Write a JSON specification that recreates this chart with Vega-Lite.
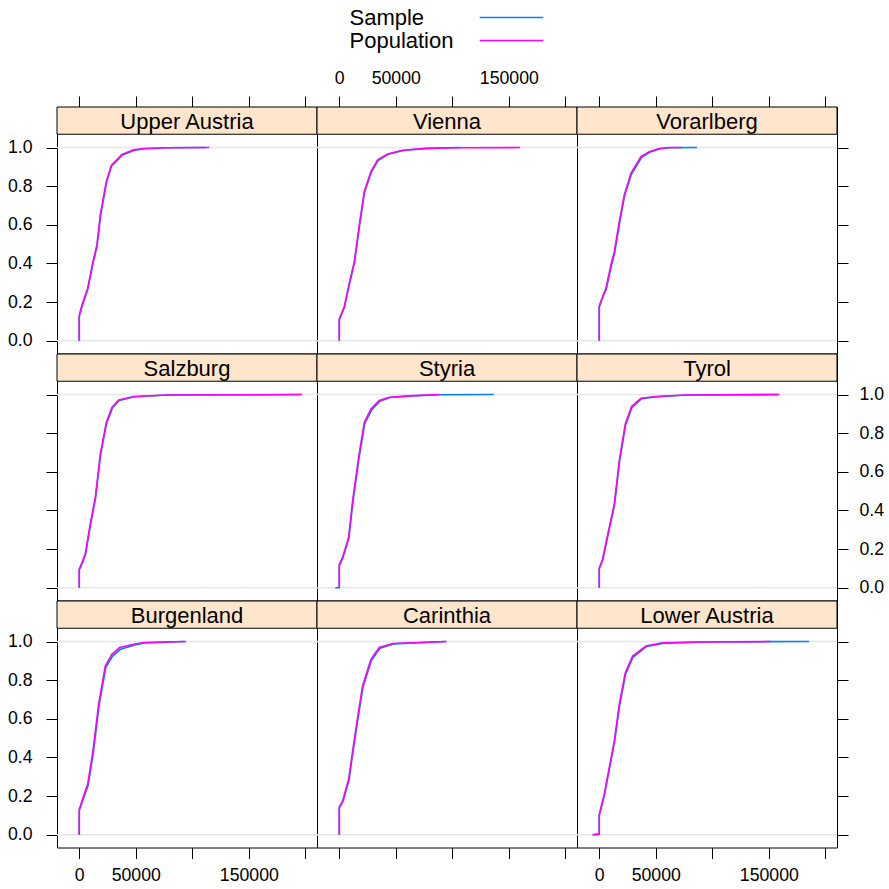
{
"$schema":"https://vega.github.io/schema/vega-lite/v6.json",
"padding":{"left":6,"top":6,"right":5,"bottom":5},
"datasets":{"ecdf":[
{"state":"Upper Austria","series":"Population","i":0,"income":0,"F":0},
{"state":"Upper Austria","series":"Population","i":1,"income":0,"F":0.133},
{"state":"Upper Austria","series":"Population","i":2,"income":2400,"F":0.185},
{"state":"Upper Austria","series":"Population","i":3,"income":7400,"F":0.271},
{"state":"Upper Austria","series":"Population","i":4,"income":12100,"F":0.409},
{"state":"Upper Austria","series":"Population","i":5,"income":15600,"F":0.496},
{"state":"Upper Austria","series":"Population","i":6,"income":18600,"F":0.651},
{"state":"Upper Austria","series":"Population","i":7,"income":23900,"F":0.824},
{"state":"Upper Austria","series":"Population","i":8,"income":28300,"F":0.907},
{"state":"Upper Austria","series":"Population","i":9,"income":37800,"F":0.965},
{"state":"Upper Austria","series":"Population","i":10,"income":48100,"F":0.988},
{"state":"Upper Austria","series":"Population","i":11,"income":57000,"F":0.995},
{"state":"Upper Austria","series":"Population","i":12,"income":77600,"F":0.999},
{"state":"Upper Austria","series":"Population","i":13,"income":115000,"F":1},
{"state":"Upper Austria","series":"Sample","i":0,"income":0,"F":0},
{"state":"Upper Austria","series":"Sample","i":1,"income":0,"F":0.125},
{"state":"Upper Austria","series":"Sample","i":2,"income":2600,"F":0.18},
{"state":"Upper Austria","series":"Sample","i":3,"income":7600,"F":0.268},
{"state":"Upper Austria","series":"Sample","i":4,"income":12300,"F":0.405},
{"state":"Upper Austria","series":"Sample","i":5,"income":15800,"F":0.49},
{"state":"Upper Austria","series":"Sample","i":6,"income":18800,"F":0.645},
{"state":"Upper Austria","series":"Sample","i":7,"income":24100,"F":0.82},
{"state":"Upper Austria","series":"Sample","i":8,"income":28500,"F":0.903},
{"state":"Upper Austria","series":"Sample","i":9,"income":38200,"F":0.962},
{"state":"Upper Austria","series":"Sample","i":10,"income":48800,"F":0.986},
{"state":"Upper Austria","series":"Sample","i":11,"income":58000,"F":0.994},
{"state":"Upper Austria","series":"Sample","i":12,"income":78000,"F":0.999},
{"state":"Upper Austria","series":"Sample","i":13,"income":112000,"F":1},
{"state":"Vienna","series":"Population","i":0,"income":0,"F":0},
{"state":"Vienna","series":"Population","i":1,"income":0,"F":0.112},
{"state":"Vienna","series":"Population","i":2,"income":4400,"F":0.176},
{"state":"Vienna","series":"Population","i":3,"income":8800,"F":0.297},
{"state":"Vienna","series":"Population","i":4,"income":13300,"F":0.409},
{"state":"Vienna","series":"Population","i":5,"income":17700,"F":0.599},
{"state":"Vienna","series":"Population","i":6,"income":22100,"F":0.772},
{"state":"Vienna","series":"Population","i":7,"income":28000,"F":0.876},
{"state":"Vienna","series":"Population","i":8,"income":33900,"F":0.936},
{"state":"Vienna","series":"Population","i":9,"income":42800,"F":0.967},
{"state":"Vienna","series":"Population","i":10,"income":56000,"F":0.986},
{"state":"Vienna","series":"Population","i":11,"income":76700,"F":0.996},
{"state":"Vienna","series":"Population","i":12,"income":106000,"F":0.999},
{"state":"Vienna","series":"Population","i":13,"income":160000,"F":1},
{"state":"Vienna","series":"Sample","i":0,"income":0,"F":0},
{"state":"Vienna","series":"Sample","i":1,"income":0,"F":0.108},
{"state":"Vienna","series":"Sample","i":2,"income":4500,"F":0.172},
{"state":"Vienna","series":"Sample","i":3,"income":9000,"F":0.293},
{"state":"Vienna","series":"Sample","i":4,"income":13500,"F":0.405},
{"state":"Vienna","series":"Sample","i":5,"income":17900,"F":0.595},
{"state":"Vienna","series":"Sample","i":6,"income":22300,"F":0.768},
{"state":"Vienna","series":"Sample","i":7,"income":28300,"F":0.872},
{"state":"Vienna","series":"Sample","i":8,"income":34300,"F":0.933},
{"state":"Vienna","series":"Sample","i":9,"income":43300,"F":0.965},
{"state":"Vienna","series":"Sample","i":10,"income":56500,"F":0.985},
{"state":"Vienna","series":"Sample","i":11,"income":77500,"F":0.996},
{"state":"Vienna","series":"Sample","i":12,"income":107700,"F":1},
{"state":"Vorarlberg","series":"Population","i":0,"income":0,"F":0},
{"state":"Vorarlberg","series":"Population","i":1,"income":0,"F":0.181},
{"state":"Vorarlberg","series":"Population","i":2,"income":2900,"F":0.228},
{"state":"Vorarlberg","series":"Population","i":3,"income":5900,"F":0.271},
{"state":"Vorarlberg","series":"Population","i":4,"income":10300,"F":0.392},
{"state":"Vorarlberg","series":"Population","i":5,"income":13300,"F":0.461},
{"state":"Vorarlberg","series":"Population","i":6,"income":17700,"F":0.617},
{"state":"Vorarlberg","series":"Population","i":7,"income":22100,"F":0.755},
{"state":"Vorarlberg","series":"Population","i":8,"income":28000,"F":0.867},
{"state":"Vorarlberg","series":"Population","i":9,"income":36900,"F":0.953},
{"state":"Vorarlberg","series":"Population","i":10,"income":44200,"F":0.979},
{"state":"Vorarlberg","series":"Population","i":11,"income":53100,"F":0.995},
{"state":"Vorarlberg","series":"Population","i":12,"income":62000,"F":1},
{"state":"Vorarlberg","series":"Population","i":13,"income":73200,"F":1},
{"state":"Vorarlberg","series":"Sample","i":0,"income":0,"F":0},
{"state":"Vorarlberg","series":"Sample","i":1,"income":0,"F":0.175},
{"state":"Vorarlberg","series":"Sample","i":2,"income":3100,"F":0.225},
{"state":"Vorarlberg","series":"Sample","i":3,"income":6200,"F":0.268},
{"state":"Vorarlberg","series":"Sample","i":4,"income":10600,"F":0.385},
{"state":"Vorarlberg","series":"Sample","i":5,"income":13600,"F":0.455},
{"state":"Vorarlberg","series":"Sample","i":6,"income":18000,"F":0.61},
{"state":"Vorarlberg","series":"Sample","i":7,"income":22400,"F":0.75},
{"state":"Vorarlberg","series":"Sample","i":8,"income":28400,"F":0.862},
{"state":"Vorarlberg","series":"Sample","i":9,"income":37500,"F":0.95},
{"state":"Vorarlberg","series":"Sample","i":10,"income":45000,"F":0.977},
{"state":"Vorarlberg","series":"Sample","i":11,"income":54000,"F":0.994},
{"state":"Vorarlberg","series":"Sample","i":12,"income":63000,"F":0.999},
{"state":"Vorarlberg","series":"Sample","i":13,"income":86400,"F":1},
{"state":"Salzburg","series":"Population","i":0,"income":0,"F":0},
{"state":"Salzburg","series":"Population","i":1,"income":0,"F":0.096},
{"state":"Salzburg","series":"Population","i":2,"income":2400,"F":0.131},
{"state":"Salzburg","series":"Population","i":3,"income":5300,"F":0.174},
{"state":"Salzburg","series":"Population","i":4,"income":9700,"F":0.33},
{"state":"Salzburg","series":"Population","i":5,"income":14200,"F":0.468},
{"state":"Salzburg","series":"Population","i":6,"income":18600,"F":0.692},
{"state":"Salzburg","series":"Population","i":7,"income":23900,"F":0.856},
{"state":"Salzburg","series":"Population","i":8,"income":28900,"F":0.934},
{"state":"Salzburg","series":"Population","i":9,"income":34800,"F":0.972},
{"state":"Salzburg","series":"Population","i":10,"income":48100,"F":0.99},
{"state":"Salzburg","series":"Population","i":11,"income":77600,"F":0.998},
{"state":"Salzburg","series":"Population","i":12,"income":197000,"F":1},
{"state":"Salzburg","series":"Sample","i":0,"income":0,"F":0},
{"state":"Salzburg","series":"Sample","i":1,"income":0,"F":0.092},
{"state":"Salzburg","series":"Sample","i":2,"income":2600,"F":0.127},
{"state":"Salzburg","series":"Sample","i":3,"income":5500,"F":0.17},
{"state":"Salzburg","series":"Sample","i":4,"income":9900,"F":0.325},
{"state":"Salzburg","series":"Sample","i":5,"income":14400,"F":0.463},
{"state":"Salzburg","series":"Sample","i":6,"income":18800,"F":0.687},
{"state":"Salzburg","series":"Sample","i":7,"income":24200,"F":0.852},
{"state":"Salzburg","series":"Sample","i":8,"income":29300,"F":0.93},
{"state":"Salzburg","series":"Sample","i":9,"income":35300,"F":0.97},
{"state":"Salzburg","series":"Sample","i":10,"income":48800,"F":0.989},
{"state":"Salzburg","series":"Sample","i":11,"income":78000,"F":0.998},
{"state":"Salzburg","series":"Sample","i":12,"income":196000,"F":1},
{"state":"Styria","series":"Population","i":0,"income":0,"F":0},
{"state":"Styria","series":"Population","i":1,"income":0,"F":0.119},
{"state":"Styria","series":"Population","i":2,"income":2900,"F":0.157},
{"state":"Styria","series":"Population","i":3,"income":8300,"F":0.261},
{"state":"Styria","series":"Population","i":4,"income":11800,"F":0.451},
{"state":"Styria","series":"Population","i":5,"income":17100,"F":0.675},
{"state":"Styria","series":"Population","i":6,"income":22100,"F":0.856},
{"state":"Styria","series":"Population","i":7,"income":28000,"F":0.925},
{"state":"Styria","series":"Population","i":8,"income":35400,"F":0.969},
{"state":"Styria","series":"Population","i":9,"income":44200,"F":0.986},
{"state":"Styria","series":"Population","i":10,"income":62000,"F":0.993},
{"state":"Styria","series":"Population","i":11,"income":88500,"F":1},
{"state":"Styria","series":"Sample","i":0,"income":-3500,"F":0},
{"state":"Styria","series":"Sample","i":1,"income":0,"F":0},
{"state":"Styria","series":"Sample","i":2,"income":0,"F":0.115},
{"state":"Styria","series":"Sample","i":3,"income":3100,"F":0.153},
{"state":"Styria","series":"Sample","i":4,"income":8500,"F":0.257},
{"state":"Styria","series":"Sample","i":5,"income":12100,"F":0.445},
{"state":"Styria","series":"Sample","i":6,"income":17400,"F":0.668},
{"state":"Styria","series":"Sample","i":7,"income":22500,"F":0.85},
{"state":"Styria","series":"Sample","i":8,"income":28600,"F":0.92},
{"state":"Styria","series":"Sample","i":9,"income":36000,"F":0.966},
{"state":"Styria","series":"Sample","i":10,"income":45000,"F":0.985},
{"state":"Styria","series":"Sample","i":11,"income":63000,"F":0.993},
{"state":"Styria","series":"Sample","i":12,"income":90000,"F":0.999},
{"state":"Styria","series":"Sample","i":13,"income":136600,"F":1},
{"state":"Tyrol","series":"Population","i":0,"income":0,"F":0},
{"state":"Tyrol","series":"Population","i":1,"income":0,"F":0.102},
{"state":"Tyrol","series":"Population","i":2,"income":2900,"F":0.148},
{"state":"Tyrol","series":"Population","i":3,"income":8800,"F":0.312},
{"state":"Tyrol","series":"Population","i":4,"income":13300,"F":0.433},
{"state":"Tyrol","series":"Population","i":5,"income":17700,"F":0.658},
{"state":"Tyrol","series":"Population","i":6,"income":23000,"F":0.848},
{"state":"Tyrol","series":"Population","i":7,"income":28600,"F":0.938},
{"state":"Tyrol","series":"Population","i":8,"income":36900,"F":0.981},
{"state":"Tyrol","series":"Population","i":9,"income":50100,"F":0.99},
{"state":"Tyrol","series":"Population","i":10,"income":76700,"F":0.998},
{"state":"Tyrol","series":"Population","i":11,"income":159300,"F":1},
{"state":"Tyrol","series":"Sample","i":0,"income":0,"F":0},
{"state":"Tyrol","series":"Sample","i":1,"income":0,"F":0.098},
{"state":"Tyrol","series":"Sample","i":2,"income":3100,"F":0.144},
{"state":"Tyrol","series":"Sample","i":3,"income":9000,"F":0.308},
{"state":"Tyrol","series":"Sample","i":4,"income":13500,"F":0.428},
{"state":"Tyrol","series":"Sample","i":5,"income":17900,"F":0.652},
{"state":"Tyrol","series":"Sample","i":6,"income":23300,"F":0.843},
{"state":"Tyrol","series":"Sample","i":7,"income":29000,"F":0.934},
{"state":"Tyrol","series":"Sample","i":8,"income":37500,"F":0.979},
{"state":"Tyrol","series":"Sample","i":9,"income":51000,"F":0.989},
{"state":"Tyrol","series":"Sample","i":10,"income":77500,"F":0.998},
{"state":"Tyrol","series":"Sample","i":11,"income":158000,"F":1},
{"state":"Burgenland","series":"Population","i":0,"income":0,"F":0},
{"state":"Burgenland","series":"Population","i":1,"income":0,"F":0.131},
{"state":"Burgenland","series":"Population","i":2,"income":3300,"F":0.192},
{"state":"Burgenland","series":"Population","i":3,"income":7400,"F":0.261},
{"state":"Burgenland","series":"Population","i":4,"income":12100,"F":0.433},
{"state":"Burgenland","series":"Population","i":5,"income":17100,"F":0.675},
{"state":"Burgenland","series":"Population","i":6,"income":23000,"F":0.874},
{"state":"Burgenland","series":"Population","i":7,"income":28900,"F":0.934},
{"state":"Burgenland","series":"Population","i":8,"income":35700,"F":0.969},
{"state":"Burgenland","series":"Population","i":9,"income":48100,"F":0.986},
{"state":"Burgenland","series":"Population","i":10,"income":57000,"F":0.995},
{"state":"Burgenland","series":"Population","i":11,"income":94400,"F":1},
{"state":"Burgenland","series":"Sample","i":0,"income":0,"F":0},
{"state":"Burgenland","series":"Sample","i":1,"income":0,"F":0.125},
{"state":"Burgenland","series":"Sample","i":2,"income":3600,"F":0.185},
{"state":"Burgenland","series":"Sample","i":3,"income":7800,"F":0.255},
{"state":"Burgenland","series":"Sample","i":4,"income":12500,"F":0.426},
{"state":"Burgenland","series":"Sample","i":5,"income":17500,"F":0.668},
{"state":"Burgenland","series":"Sample","i":6,"income":23500,"F":0.866},
{"state":"Burgenland","series":"Sample","i":7,"income":29500,"F":0.925},
{"state":"Burgenland","series":"Sample","i":8,"income":36500,"F":0.96},
{"state":"Burgenland","series":"Sample","i":9,"income":49000,"F":0.982},
{"state":"Burgenland","series":"Sample","i":10,"income":58000,"F":0.993},
{"state":"Burgenland","series":"Sample","i":11,"income":93000,"F":1},
{"state":"Carinthia","series":"Population","i":0,"income":0,"F":0},
{"state":"Carinthia","series":"Population","i":1,"income":0,"F":0.143},
{"state":"Carinthia","series":"Population","i":2,"income":2900,"F":0.174},
{"state":"Carinthia","series":"Population","i":3,"income":8300,"F":0.287},
{"state":"Carinthia","series":"Population","i":4,"income":11800,"F":0.433},
{"state":"Carinthia","series":"Population","i":5,"income":16200,"F":0.606},
{"state":"Carinthia","series":"Population","i":6,"income":20600,"F":0.77},
{"state":"Carinthia","series":"Population","i":7,"income":28000,"F":0.908},
{"state":"Carinthia","series":"Population","i":8,"income":35400,"F":0.969},
{"state":"Carinthia","series":"Population","i":9,"income":47200,"F":0.99},
{"state":"Carinthia","series":"Population","i":10,"income":95000,"F":1},
{"state":"Carinthia","series":"Sample","i":0,"income":0,"F":0},
{"state":"Carinthia","series":"Sample","i":1,"income":0,"F":0.138},
{"state":"Carinthia","series":"Sample","i":2,"income":3100,"F":0.17},
{"state":"Carinthia","series":"Sample","i":3,"income":8600,"F":0.282},
{"state":"Carinthia","series":"Sample","i":4,"income":12100,"F":0.428},
{"state":"Carinthia","series":"Sample","i":5,"income":16500,"F":0.6},
{"state":"Carinthia","series":"Sample","i":6,"income":21000,"F":0.765},
{"state":"Carinthia","series":"Sample","i":7,"income":28500,"F":0.903},
{"state":"Carinthia","series":"Sample","i":8,"income":36000,"F":0.965},
{"state":"Carinthia","series":"Sample","i":9,"income":48000,"F":0.988},
{"state":"Carinthia","series":"Sample","i":10,"income":94000,"F":1},
{"state":"Lower Austria","series":"Population","i":0,"income":-5900,"F":0},
{"state":"Lower Austria","series":"Population","i":1,"income":0,"F":0.003},
{"state":"Lower Austria","series":"Population","i":2,"income":0,"F":0.105},
{"state":"Lower Austria","series":"Population","i":3,"income":4400,"F":0.209},
{"state":"Lower Austria","series":"Population","i":4,"income":8800,"F":0.347},
{"state":"Lower Austria","series":"Population","i":5,"income":13300,"F":0.485},
{"state":"Lower Austria","series":"Population","i":6,"income":17700,"F":0.675},
{"state":"Lower Austria","series":"Population","i":7,"income":23000,"F":0.839},
{"state":"Lower Austria","series":"Population","i":8,"income":29500,"F":0.925},
{"state":"Lower Austria","series":"Population","i":9,"income":41300,"F":0.977},
{"state":"Lower Austria","series":"Population","i":10,"income":56000,"F":0.993},
{"state":"Lower Austria","series":"Population","i":11,"income":91400,"F":0.998},
{"state":"Lower Austria","series":"Population","i":12,"income":151300,"F":1},
{"state":"Lower Austria","series":"Sample","i":0,"income":-5900,"F":0},
{"state":"Lower Austria","series":"Sample","i":1,"income":0,"F":0.003},
{"state":"Lower Austria","series":"Sample","i":2,"income":0,"F":0.1},
{"state":"Lower Austria","series":"Sample","i":3,"income":4600,"F":0.205},
{"state":"Lower Austria","series":"Sample","i":4,"income":9000,"F":0.342},
{"state":"Lower Austria","series":"Sample","i":5,"income":13500,"F":0.48},
{"state":"Lower Austria","series":"Sample","i":6,"income":18000,"F":0.67},
{"state":"Lower Austria","series":"Sample","i":7,"income":23400,"F":0.834},
{"state":"Lower Austria","series":"Sample","i":8,"income":30000,"F":0.92},
{"state":"Lower Austria","series":"Sample","i":9,"income":42000,"F":0.975},
{"state":"Lower Austria","series":"Sample","i":10,"income":57000,"F":0.992},
{"state":"Lower Austria","series":"Sample","i":11,"income":92000,"F":0.998},
{"state":"Lower Austria","series":"Sample","i":12,"income":150000,"F":0.9995},
{"state":"Lower Austria","series":"Sample","i":13,"income":185600,"F":1}
]},
"columns":3,
"spacing":0,
"bounds":"flush",
"concat":[
{"width":260,"height":246.5,"layer":[
 {"data":{"values":[{"F":0},{"F":1}]},"mark":{"type":"rule","color":"#e6e6e6","strokeWidth":1.5},"encoding":{"y":{"field":"F","type":"quantitative","scale":{"domain":[-0.066,1.21],"nice":false,"zero":false},"axis":{"orient":"left","values":[0,0.2,0.4,0.6,0.8,1],"format":".1f","title":null}}}},
 {"data":{"name":"ecdf"},"transform":[{"filter":"datum.state=='Upper Austria'&&datum.series=='Sample'"}],"mark":{"type":"line","strokeWidth":1.6},"encoding":{"x":{"field":"income","type":"quantitative","scale":{"domain":[-19700,210300],"nice":false,"zero":false},"axis":{"orient":"top","values":[0,50000,100000,150000,200000],"labels":false,"title":null}},"y":{"field":"F","type":"quantitative","scale":{"domain":[-0.066,1.21],"nice":false,"zero":false},"axis":{"orient":"left","values":[0,0.2,0.4,0.6,0.8,1],"format":".1f","title":null}},"order":{"field":"i"},"color":{"field":"series","type":"nominal","scale":{"domain":["Sample","Population"],"range":["#0080ff","#ff00ff"]},"legend":{"orient":"none","legendX":443,"legendY":-101,"title":null,"direction":"vertical","symbolType":"M-3,0H3","symbolSize":450,"symbolStrokeWidth":1.6,"symbolOffset":0,"labelFontSize":22,"labelFont":"Liberation Sans","labelColor":"black","labelAlign":"left","labelOffset":-173.5,"rowPadding":-1,"padding":0,"labelLimit":300}}}},
 {"data":{"name":"ecdf"},"transform":[{"filter":"datum.state=='Upper Austria'&&datum.series=='Population'"}],"mark":{"type":"line","strokeWidth":1.6},"encoding":{"x":{"field":"income","type":"quantitative","scale":{"domain":[-19700,210300],"nice":false,"zero":false},"axis":{"orient":"top","values":[0,50000,100000,150000,200000],"labels":false,"title":null}},"y":{"field":"F","type":"quantitative","scale":{"domain":[-0.066,1.21],"nice":false,"zero":false},"axis":{"orient":"left","values":[0,0.2,0.4,0.6,0.8,1],"format":".1f","title":null}},"order":{"field":"i"},"color":{"field":"series","type":"nominal","scale":{"domain":["Sample","Population"],"range":["#0080ff","#ff00ff"]}}}},
 {"data":{"values":[{"state":"Upper Austria"}]},"mark":{"type":"rect","fill":"#ffe5cc","stroke":"black","strokeWidth":1},"encoding":{"y":{"datum":1.069,"type":"quantitative","scale":{"domain":[-0.066,1.21],"nice":false,"zero":false},"axis":{"orient":"left","values":[0,0.2,0.4,0.6,0.8,1],"format":".1f","title":null}},"y2":{"datum":1.21}}},
 {"data":{"values":[{"state":"Upper Austria"}]},"mark":{"type":"text","fontSize":22,"font":"Liberation Sans","color":"black","align":"center","baseline":"alphabetic"},"encoding":{"x":{"datum":95300,"type":"quantitative","scale":{"domain":[-19700,210300],"nice":false,"zero":false},"axis":{"orient":"top","values":[0,50000,100000,150000,200000],"labels":false,"title":null}},"y":{"datum":1.098,"type":"quantitative","scale":{"domain":[-0.066,1.21],"nice":false,"zero":false},"axis":{"orient":"left","values":[0,0.2,0.4,0.6,0.8,1],"format":".1f","title":null}},"text":{"field":"state"}}}
]},
{"width":260,"height":246.5,"layer":[
 {"data":{"values":[{"F":0},{"F":1}]},"mark":{"type":"rule","color":"#e6e6e6","strokeWidth":1.5},"encoding":{"y":{"field":"F","type":"quantitative","scale":{"domain":[-0.066,1.21],"nice":false,"zero":false},"axis":null}}},
 {"data":{"name":"ecdf"},"transform":[{"filter":"datum.state=='Vienna'&&datum.series=='Sample'"}],"mark":{"type":"line","strokeWidth":1.6},"encoding":{"x":{"field":"income","type":"quantitative","scale":{"domain":[-19700,210300],"nice":false,"zero":false},"axis":{"orient":"top","values":[0,50000,100000,150000,200000],"labelExpr":"(datum.value==100000||datum.value==200000)?'':datum.value+''","title":null}},"y":{"field":"F","type":"quantitative","scale":{"domain":[-0.066,1.21],"nice":false,"zero":false},"axis":null},"order":{"field":"i"},"color":{"field":"series","type":"nominal","scale":{"domain":["Sample","Population"],"range":["#0080ff","#ff00ff"]}}}},
 {"data":{"name":"ecdf"},"transform":[{"filter":"datum.state=='Vienna'&&datum.series=='Population'"}],"mark":{"type":"line","strokeWidth":1.6},"encoding":{"x":{"field":"income","type":"quantitative","scale":{"domain":[-19700,210300],"nice":false,"zero":false},"axis":{"orient":"top","values":[0,50000,100000,150000,200000],"labelExpr":"(datum.value==100000||datum.value==200000)?'':datum.value+''","title":null}},"y":{"field":"F","type":"quantitative","scale":{"domain":[-0.066,1.21],"nice":false,"zero":false},"axis":null},"order":{"field":"i"},"color":{"field":"series","type":"nominal","scale":{"domain":["Sample","Population"],"range":["#0080ff","#ff00ff"]}}}},
 {"data":{"values":[{"state":"Vienna"}]},"mark":{"type":"rect","fill":"#ffe5cc","stroke":"black","strokeWidth":1},"encoding":{"y":{"datum":1.069,"type":"quantitative","scale":{"domain":[-0.066,1.21],"nice":false,"zero":false},"axis":null},"y2":{"datum":1.21}}},
 {"data":{"values":[{"state":"Vienna"}]},"mark":{"type":"text","fontSize":22,"font":"Liberation Sans","color":"black","align":"center","baseline":"alphabetic"},"encoding":{"x":{"datum":95300,"type":"quantitative","scale":{"domain":[-19700,210300],"nice":false,"zero":false},"axis":{"orient":"top","values":[0,50000,100000,150000,200000],"labelExpr":"(datum.value==100000||datum.value==200000)?'':datum.value+''","title":null}},"y":{"datum":1.098,"type":"quantitative","scale":{"domain":[-0.066,1.21],"nice":false,"zero":false},"axis":null},"text":{"field":"state"}}}
]},
{"width":260,"height":246.5,"layer":[
 {"data":{"values":[{"F":0},{"F":1}]},"mark":{"type":"rule","color":"#e6e6e6","strokeWidth":1.5},"encoding":{"y":{"field":"F","type":"quantitative","scale":{"domain":[-0.066,1.21],"nice":false,"zero":false},"axis":{"orient":"right","values":[0,0.2,0.4,0.6,0.8,1],"labels":false,"title":null}}}},
 {"data":{"name":"ecdf"},"transform":[{"filter":"datum.state=='Vorarlberg'&&datum.series=='Sample'"}],"mark":{"type":"line","strokeWidth":1.6},"encoding":{"x":{"field":"income","type":"quantitative","scale":{"domain":[-19700,210300],"nice":false,"zero":false},"axis":{"orient":"top","values":[0,50000,100000,150000,200000],"labels":false,"title":null}},"y":{"field":"F","type":"quantitative","scale":{"domain":[-0.066,1.21],"nice":false,"zero":false},"axis":{"orient":"right","values":[0,0.2,0.4,0.6,0.8,1],"labels":false,"title":null}},"order":{"field":"i"},"color":{"field":"series","type":"nominal","scale":{"domain":["Sample","Population"],"range":["#0080ff","#ff00ff"]}}}},
 {"data":{"name":"ecdf"},"transform":[{"filter":"datum.state=='Vorarlberg'&&datum.series=='Population'"}],"mark":{"type":"line","strokeWidth":1.6},"encoding":{"x":{"field":"income","type":"quantitative","scale":{"domain":[-19700,210300],"nice":false,"zero":false},"axis":{"orient":"top","values":[0,50000,100000,150000,200000],"labels":false,"title":null}},"y":{"field":"F","type":"quantitative","scale":{"domain":[-0.066,1.21],"nice":false,"zero":false},"axis":{"orient":"right","values":[0,0.2,0.4,0.6,0.8,1],"labels":false,"title":null}},"order":{"field":"i"},"color":{"field":"series","type":"nominal","scale":{"domain":["Sample","Population"],"range":["#0080ff","#ff00ff"]}}}},
 {"data":{"values":[{"state":"Vorarlberg"}]},"mark":{"type":"rect","fill":"#ffe5cc","stroke":"black","strokeWidth":1},"encoding":{"y":{"datum":1.069,"type":"quantitative","scale":{"domain":[-0.066,1.21],"nice":false,"zero":false},"axis":{"orient":"right","values":[0,0.2,0.4,0.6,0.8,1],"labels":false,"title":null}},"y2":{"datum":1.21}}},
 {"data":{"values":[{"state":"Vorarlberg"}]},"mark":{"type":"text","fontSize":22,"font":"Liberation Sans","color":"black","align":"center","baseline":"alphabetic"},"encoding":{"x":{"datum":95300,"type":"quantitative","scale":{"domain":[-19700,210300],"nice":false,"zero":false},"axis":{"orient":"top","values":[0,50000,100000,150000,200000],"labels":false,"title":null}},"y":{"datum":1.098,"type":"quantitative","scale":{"domain":[-0.066,1.21],"nice":false,"zero":false},"axis":{"orient":"right","values":[0,0.2,0.4,0.6,0.8,1],"labels":false,"title":null}},"text":{"field":"state"}}}
]},
{"width":260,"height":246.5,"layer":[
 {"data":{"values":[{"F":0},{"F":1}]},"mark":{"type":"rule","color":"#e6e6e6","strokeWidth":1.5},"encoding":{"y":{"field":"F","type":"quantitative","scale":{"domain":[-0.066,1.21],"nice":false,"zero":false},"axis":{"orient":"left","values":[0,0.2,0.4,0.6,0.8,1],"labels":false,"title":null}}}},
 {"data":{"name":"ecdf"},"transform":[{"filter":"datum.state=='Salzburg'&&datum.series=='Sample'"}],"mark":{"type":"line","strokeWidth":1.6},"encoding":{"x":{"field":"income","type":"quantitative","scale":{"domain":[-19700,210300],"nice":false,"zero":false},"axis":null},"y":{"field":"F","type":"quantitative","scale":{"domain":[-0.066,1.21],"nice":false,"zero":false},"axis":{"orient":"left","values":[0,0.2,0.4,0.6,0.8,1],"labels":false,"title":null}},"order":{"field":"i"},"color":{"field":"series","type":"nominal","scale":{"domain":["Sample","Population"],"range":["#0080ff","#ff00ff"]}}}},
 {"data":{"name":"ecdf"},"transform":[{"filter":"datum.state=='Salzburg'&&datum.series=='Population'"}],"mark":{"type":"line","strokeWidth":1.6},"encoding":{"x":{"field":"income","type":"quantitative","scale":{"domain":[-19700,210300],"nice":false,"zero":false},"axis":null},"y":{"field":"F","type":"quantitative","scale":{"domain":[-0.066,1.21],"nice":false,"zero":false},"axis":{"orient":"left","values":[0,0.2,0.4,0.6,0.8,1],"labels":false,"title":null}},"order":{"field":"i"},"color":{"field":"series","type":"nominal","scale":{"domain":["Sample","Population"],"range":["#0080ff","#ff00ff"]}}}},
 {"data":{"values":[{"state":"Salzburg"}]},"mark":{"type":"rect","fill":"#ffe5cc","stroke":"black","strokeWidth":1},"encoding":{"y":{"datum":1.069,"type":"quantitative","scale":{"domain":[-0.066,1.21],"nice":false,"zero":false},"axis":{"orient":"left","values":[0,0.2,0.4,0.6,0.8,1],"labels":false,"title":null}},"y2":{"datum":1.21}}},
 {"data":{"values":[{"state":"Salzburg"}]},"mark":{"type":"text","fontSize":22,"font":"Liberation Sans","color":"black","align":"center","baseline":"alphabetic"},"encoding":{"x":{"datum":95300,"type":"quantitative","scale":{"domain":[-19700,210300],"nice":false,"zero":false},"axis":null},"y":{"datum":1.098,"type":"quantitative","scale":{"domain":[-0.066,1.21],"nice":false,"zero":false},"axis":{"orient":"left","values":[0,0.2,0.4,0.6,0.8,1],"labels":false,"title":null}},"text":{"field":"state"}}}
]},
{"width":260,"height":246.5,"layer":[
 {"data":{"values":[{"F":0},{"F":1}]},"mark":{"type":"rule","color":"#e6e6e6","strokeWidth":1.5},"encoding":{"y":{"field":"F","type":"quantitative","scale":{"domain":[-0.066,1.21],"nice":false,"zero":false},"axis":null}}},
 {"data":{"name":"ecdf"},"transform":[{"filter":"datum.state=='Styria'&&datum.series=='Sample'"}],"mark":{"type":"line","strokeWidth":1.6},"encoding":{"x":{"field":"income","type":"quantitative","scale":{"domain":[-19700,210300],"nice":false,"zero":false},"axis":null},"y":{"field":"F","type":"quantitative","scale":{"domain":[-0.066,1.21],"nice":false,"zero":false},"axis":null},"order":{"field":"i"},"color":{"field":"series","type":"nominal","scale":{"domain":["Sample","Population"],"range":["#0080ff","#ff00ff"]}}}},
 {"data":{"name":"ecdf"},"transform":[{"filter":"datum.state=='Styria'&&datum.series=='Population'"}],"mark":{"type":"line","strokeWidth":1.6},"encoding":{"x":{"field":"income","type":"quantitative","scale":{"domain":[-19700,210300],"nice":false,"zero":false},"axis":null},"y":{"field":"F","type":"quantitative","scale":{"domain":[-0.066,1.21],"nice":false,"zero":false},"axis":null},"order":{"field":"i"},"color":{"field":"series","type":"nominal","scale":{"domain":["Sample","Population"],"range":["#0080ff","#ff00ff"]}}}},
 {"data":{"values":[{"state":"Styria"}]},"mark":{"type":"rect","fill":"#ffe5cc","stroke":"black","strokeWidth":1},"encoding":{"y":{"datum":1.069,"type":"quantitative","scale":{"domain":[-0.066,1.21],"nice":false,"zero":false},"axis":null},"y2":{"datum":1.21}}},
 {"data":{"values":[{"state":"Styria"}]},"mark":{"type":"text","fontSize":22,"font":"Liberation Sans","color":"black","align":"center","baseline":"alphabetic"},"encoding":{"x":{"datum":95300,"type":"quantitative","scale":{"domain":[-19700,210300],"nice":false,"zero":false},"axis":null},"y":{"datum":1.098,"type":"quantitative","scale":{"domain":[-0.066,1.21],"nice":false,"zero":false},"axis":null},"text":{"field":"state"}}}
]},
{"width":260,"height":246.5,"layer":[
 {"data":{"values":[{"F":0},{"F":1}]},"mark":{"type":"rule","color":"#e6e6e6","strokeWidth":1.5},"encoding":{"y":{"field":"F","type":"quantitative","scale":{"domain":[-0.066,1.21],"nice":false,"zero":false},"axis":{"orient":"right","values":[0,0.2,0.4,0.6,0.8,1],"format":".1f","title":null}}}},
 {"data":{"name":"ecdf"},"transform":[{"filter":"datum.state=='Tyrol'&&datum.series=='Sample'"}],"mark":{"type":"line","strokeWidth":1.6},"encoding":{"x":{"field":"income","type":"quantitative","scale":{"domain":[-19700,210300],"nice":false,"zero":false},"axis":null},"y":{"field":"F","type":"quantitative","scale":{"domain":[-0.066,1.21],"nice":false,"zero":false},"axis":{"orient":"right","values":[0,0.2,0.4,0.6,0.8,1],"format":".1f","title":null}},"order":{"field":"i"},"color":{"field":"series","type":"nominal","scale":{"domain":["Sample","Population"],"range":["#0080ff","#ff00ff"]}}}},
 {"data":{"name":"ecdf"},"transform":[{"filter":"datum.state=='Tyrol'&&datum.series=='Population'"}],"mark":{"type":"line","strokeWidth":1.6},"encoding":{"x":{"field":"income","type":"quantitative","scale":{"domain":[-19700,210300],"nice":false,"zero":false},"axis":null},"y":{"field":"F","type":"quantitative","scale":{"domain":[-0.066,1.21],"nice":false,"zero":false},"axis":{"orient":"right","values":[0,0.2,0.4,0.6,0.8,1],"format":".1f","title":null}},"order":{"field":"i"},"color":{"field":"series","type":"nominal","scale":{"domain":["Sample","Population"],"range":["#0080ff","#ff00ff"]}}}},
 {"data":{"values":[{"state":"Tyrol"}]},"mark":{"type":"rect","fill":"#ffe5cc","stroke":"black","strokeWidth":1},"encoding":{"y":{"datum":1.069,"type":"quantitative","scale":{"domain":[-0.066,1.21],"nice":false,"zero":false},"axis":{"orient":"right","values":[0,0.2,0.4,0.6,0.8,1],"format":".1f","title":null}},"y2":{"datum":1.21}}},
 {"data":{"values":[{"state":"Tyrol"}]},"mark":{"type":"text","fontSize":22,"font":"Liberation Sans","color":"black","align":"center","baseline":"alphabetic"},"encoding":{"x":{"datum":95300,"type":"quantitative","scale":{"domain":[-19700,210300],"nice":false,"zero":false},"axis":null},"y":{"datum":1.098,"type":"quantitative","scale":{"domain":[-0.066,1.21],"nice":false,"zero":false},"axis":{"orient":"right","values":[0,0.2,0.4,0.6,0.8,1],"format":".1f","title":null}},"text":{"field":"state"}}}
]},
{"width":260,"height":246.5,"layer":[
 {"data":{"values":[{"F":0},{"F":1}]},"mark":{"type":"rule","color":"#e6e6e6","strokeWidth":1.5},"encoding":{"y":{"field":"F","type":"quantitative","scale":{"domain":[-0.066,1.21],"nice":false,"zero":false},"axis":{"orient":"left","values":[0,0.2,0.4,0.6,0.8,1],"format":".1f","title":null}}}},
 {"data":{"name":"ecdf"},"transform":[{"filter":"datum.state=='Burgenland'&&datum.series=='Sample'"}],"mark":{"type":"line","strokeWidth":1.6},"encoding":{"x":{"field":"income","type":"quantitative","scale":{"domain":[-19700,210300],"nice":false,"zero":false},"axis":{"orient":"bottom","values":[0,50000,100000,150000,200000],"labelExpr":"(datum.value==100000||datum.value==200000)?'':datum.value+''","title":null}},"y":{"field":"F","type":"quantitative","scale":{"domain":[-0.066,1.21],"nice":false,"zero":false},"axis":{"orient":"left","values":[0,0.2,0.4,0.6,0.8,1],"format":".1f","title":null}},"order":{"field":"i"},"color":{"field":"series","type":"nominal","scale":{"domain":["Sample","Population"],"range":["#0080ff","#ff00ff"]}}}},
 {"data":{"name":"ecdf"},"transform":[{"filter":"datum.state=='Burgenland'&&datum.series=='Population'"}],"mark":{"type":"line","strokeWidth":1.6},"encoding":{"x":{"field":"income","type":"quantitative","scale":{"domain":[-19700,210300],"nice":false,"zero":false},"axis":{"orient":"bottom","values":[0,50000,100000,150000,200000],"labelExpr":"(datum.value==100000||datum.value==200000)?'':datum.value+''","title":null}},"y":{"field":"F","type":"quantitative","scale":{"domain":[-0.066,1.21],"nice":false,"zero":false},"axis":{"orient":"left","values":[0,0.2,0.4,0.6,0.8,1],"format":".1f","title":null}},"order":{"field":"i"},"color":{"field":"series","type":"nominal","scale":{"domain":["Sample","Population"],"range":["#0080ff","#ff00ff"]}}}},
 {"data":{"values":[{"state":"Burgenland"}]},"mark":{"type":"rect","fill":"#ffe5cc","stroke":"black","strokeWidth":1},"encoding":{"y":{"datum":1.069,"type":"quantitative","scale":{"domain":[-0.066,1.21],"nice":false,"zero":false},"axis":{"orient":"left","values":[0,0.2,0.4,0.6,0.8,1],"format":".1f","title":null}},"y2":{"datum":1.21}}},
 {"data":{"values":[{"state":"Burgenland"}]},"mark":{"type":"text","fontSize":22,"font":"Liberation Sans","color":"black","align":"center","baseline":"alphabetic"},"encoding":{"x":{"datum":95300,"type":"quantitative","scale":{"domain":[-19700,210300],"nice":false,"zero":false},"axis":{"orient":"bottom","values":[0,50000,100000,150000,200000],"labelExpr":"(datum.value==100000||datum.value==200000)?'':datum.value+''","title":null}},"y":{"datum":1.098,"type":"quantitative","scale":{"domain":[-0.066,1.21],"nice":false,"zero":false},"axis":{"orient":"left","values":[0,0.2,0.4,0.6,0.8,1],"format":".1f","title":null}},"text":{"field":"state"}}}
]},
{"width":260,"height":246.5,"layer":[
 {"data":{"values":[{"F":0},{"F":1}]},"mark":{"type":"rule","color":"#e6e6e6","strokeWidth":1.5},"encoding":{"y":{"field":"F","type":"quantitative","scale":{"domain":[-0.066,1.21],"nice":false,"zero":false},"axis":null}}},
 {"data":{"name":"ecdf"},"transform":[{"filter":"datum.state=='Carinthia'&&datum.series=='Sample'"}],"mark":{"type":"line","strokeWidth":1.6},"encoding":{"x":{"field":"income","type":"quantitative","scale":{"domain":[-19700,210300],"nice":false,"zero":false},"axis":{"orient":"bottom","values":[0,50000,100000,150000,200000],"labels":false,"title":null}},"y":{"field":"F","type":"quantitative","scale":{"domain":[-0.066,1.21],"nice":false,"zero":false},"axis":null},"order":{"field":"i"},"color":{"field":"series","type":"nominal","scale":{"domain":["Sample","Population"],"range":["#0080ff","#ff00ff"]}}}},
 {"data":{"name":"ecdf"},"transform":[{"filter":"datum.state=='Carinthia'&&datum.series=='Population'"}],"mark":{"type":"line","strokeWidth":1.6},"encoding":{"x":{"field":"income","type":"quantitative","scale":{"domain":[-19700,210300],"nice":false,"zero":false},"axis":{"orient":"bottom","values":[0,50000,100000,150000,200000],"labels":false,"title":null}},"y":{"field":"F","type":"quantitative","scale":{"domain":[-0.066,1.21],"nice":false,"zero":false},"axis":null},"order":{"field":"i"},"color":{"field":"series","type":"nominal","scale":{"domain":["Sample","Population"],"range":["#0080ff","#ff00ff"]}}}},
 {"data":{"values":[{"state":"Carinthia"}]},"mark":{"type":"rect","fill":"#ffe5cc","stroke":"black","strokeWidth":1},"encoding":{"y":{"datum":1.069,"type":"quantitative","scale":{"domain":[-0.066,1.21],"nice":false,"zero":false},"axis":null},"y2":{"datum":1.21}}},
 {"data":{"values":[{"state":"Carinthia"}]},"mark":{"type":"text","fontSize":22,"font":"Liberation Sans","color":"black","align":"center","baseline":"alphabetic"},"encoding":{"x":{"datum":95300,"type":"quantitative","scale":{"domain":[-19700,210300],"nice":false,"zero":false},"axis":{"orient":"bottom","values":[0,50000,100000,150000,200000],"labels":false,"title":null}},"y":{"datum":1.098,"type":"quantitative","scale":{"domain":[-0.066,1.21],"nice":false,"zero":false},"axis":null},"text":{"field":"state"}}}
]},
{"width":260,"height":246.5,"layer":[
 {"data":{"values":[{"F":0},{"F":1}]},"mark":{"type":"rule","color":"#e6e6e6","strokeWidth":1.5},"encoding":{"y":{"field":"F","type":"quantitative","scale":{"domain":[-0.066,1.21],"nice":false,"zero":false},"axis":{"orient":"right","values":[0,0.2,0.4,0.6,0.8,1],"labels":false,"title":null}}}},
 {"data":{"name":"ecdf"},"transform":[{"filter":"datum.state=='Lower Austria'&&datum.series=='Sample'"}],"mark":{"type":"line","strokeWidth":1.6},"encoding":{"x":{"field":"income","type":"quantitative","scale":{"domain":[-19700,210300],"nice":false,"zero":false},"axis":{"orient":"bottom","values":[0,50000,100000,150000,200000],"labelExpr":"(datum.value==100000||datum.value==200000)?'':datum.value+''","title":null}},"y":{"field":"F","type":"quantitative","scale":{"domain":[-0.066,1.21],"nice":false,"zero":false},"axis":{"orient":"right","values":[0,0.2,0.4,0.6,0.8,1],"labels":false,"title":null}},"order":{"field":"i"},"color":{"field":"series","type":"nominal","scale":{"domain":["Sample","Population"],"range":["#0080ff","#ff00ff"]}}}},
 {"data":{"name":"ecdf"},"transform":[{"filter":"datum.state=='Lower Austria'&&datum.series=='Population'"}],"mark":{"type":"line","strokeWidth":1.6},"encoding":{"x":{"field":"income","type":"quantitative","scale":{"domain":[-19700,210300],"nice":false,"zero":false},"axis":{"orient":"bottom","values":[0,50000,100000,150000,200000],"labelExpr":"(datum.value==100000||datum.value==200000)?'':datum.value+''","title":null}},"y":{"field":"F","type":"quantitative","scale":{"domain":[-0.066,1.21],"nice":false,"zero":false},"axis":{"orient":"right","values":[0,0.2,0.4,0.6,0.8,1],"labels":false,"title":null}},"order":{"field":"i"},"color":{"field":"series","type":"nominal","scale":{"domain":["Sample","Population"],"range":["#0080ff","#ff00ff"]}}}},
 {"data":{"values":[{"state":"Lower Austria"}]},"mark":{"type":"rect","fill":"#ffe5cc","stroke":"black","strokeWidth":1},"encoding":{"y":{"datum":1.069,"type":"quantitative","scale":{"domain":[-0.066,1.21],"nice":false,"zero":false},"axis":{"orient":"right","values":[0,0.2,0.4,0.6,0.8,1],"labels":false,"title":null}},"y2":{"datum":1.21}}},
 {"data":{"values":[{"state":"Lower Austria"}]},"mark":{"type":"text","fontSize":22,"font":"Liberation Sans","color":"black","align":"center","baseline":"alphabetic"},"encoding":{"x":{"datum":95300,"type":"quantitative","scale":{"domain":[-19700,210300],"nice":false,"zero":false},"axis":{"orient":"bottom","values":[0,50000,100000,150000,200000],"labelExpr":"(datum.value==100000||datum.value==200000)?'':datum.value+''","title":null}},"y":{"datum":1.098,"type":"quantitative","scale":{"domain":[-0.066,1.21],"nice":false,"zero":false},"axis":{"orient":"right","values":[0,0.2,0.4,0.6,0.8,1],"labels":false,"title":null}},"text":{"field":"state"}}}
]}
],
"config":{
 "font":"Liberation Sans",
 "view":{"stroke":"black","strokeWidth":1},
 "axis":{"domain":false,"grid":false,"ticks":true,"tickColor":"black","tickWidth":1,"tickSize":11,"labelPadding":11,"labelFont":"Liberation Sans","labelFontSize":17.7,"labelColor":"black","labelOverlap":false,"labelFlush":false,"labelBound":false},
 "axisLeft":{"labelPadding":14},
 "axisTop":{"labelPadding":9},
 "axisBottom":{"labelPadding":8}
}
}
